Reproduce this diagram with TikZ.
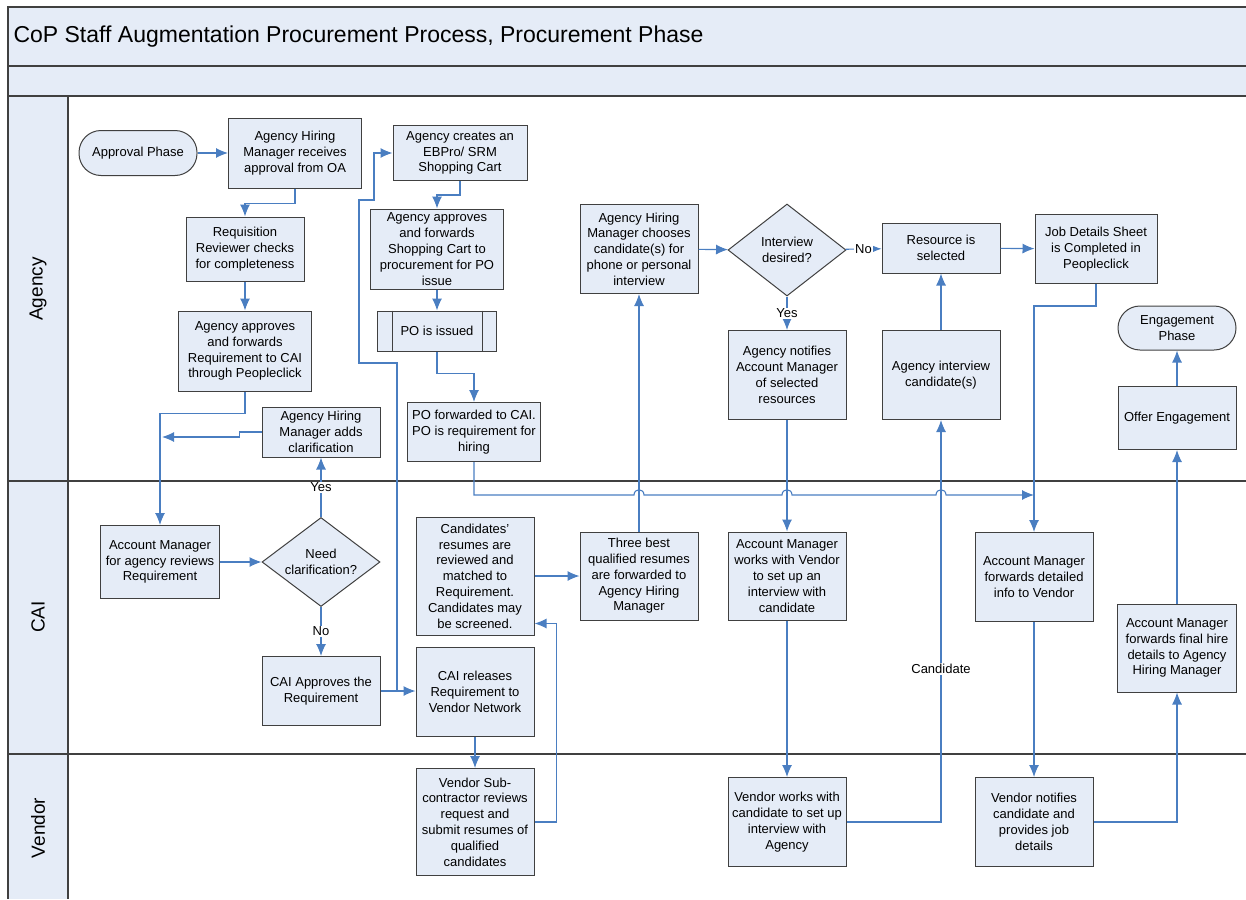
\documentclass[tikz,border=0pt]{standalone}
\usepackage{fontspec}
\setmainfont{Liberation Sans}
\usetikzlibrary{shapes.geometric,arrows.meta}

\definecolor{boxfill}{RGB}{229,236,247}
\definecolor{boxline}{RGB}{64,64,64}
\definecolor{flowblue}{RGB}{74,126,193}

\tikzset{
  proc/.style={draw=boxline, fill=boxfill, line width=1pt, align=center, inner sep=1pt,
    font=\fontsize{13}{15.8}\selectfont},
  term/.style={proc, rounded corners=22pt},
  decide/.style={proc, diamond, shape aspect=1.3, inner sep=0pt},
  flow/.style={draw=flowblue, line width=1.1pt, -{Latex[length=12pt,width=10pt]}},
  lbl/.style={fill=white, inner sep=1pt, font=\fontsize{13}{15.8}\selectfont},
  lane/.style={rotate=90, font=\fontsize{19}{22}\selectfont},
  frame/.style={draw=boxline, line width=1.4pt},
}

\begin{document}
\begin{tikzpicture}[x=1pt, y=-1pt]
                \useasboundingbox (0,0) rectangle (1246,899);

                % Frame and lanes
                \fill[boxfill] (8,7) rectangle (1246,96);
                \fill[boxfill] (8,96) rectangle (68,899);
                \draw[frame] (1246,7) -- (8,7) -- (8,899);
                \draw[frame] (8,66) -- (1246,66);
                \draw[frame] (8,96) -- (1246,96);
                \draw[frame] (68,96) -- (68,899);
                \draw[frame] (8,481) -- (1246,481);
                \draw[frame] (8,754) -- (1246,754);
                \node[anchor=west, font=\fontsize{23}{26}\selectfont] (title) at (10,37) {CoP Staff Augmentation Procurement Process, Procurement Phase};
                \node[lane] (agency) at (38,289) {Agency};
                \node[lane] (cai) at (38,617) {CAI};
                \node[lane] (vendor) at (38,828) {Vendor};

                % Nodes, Agency lane
                \node[term, minimum width=118pt, minimum height=45pt] (approval) at (138,153) {Approval Phase};
                \node[proc, minimum width=133pt, minimum height=70pt] (ahmrecv) at (295,153) {Agency Hiring\\Manager receives\\approval from OA};
                \node[proc, minimum width=118pt, minimum height=64pt] (reqrev) at (245,249) {Requisition\\Reviewer checks\\for completeness};
                \node[proc, minimum width=133pt, minimum height=80pt] (agreq) at (245,351) {Agency approves\\and forwards\\Requirement to CAI\\through Peopleclick};
                \node[proc, minimum width=118pt, minimum height=50pt] (clarify) at (321,432) {Agency Hiring\\Manager adds\\clarification};
                \node[proc, minimum width=134pt, minimum height=55pt] (cart) at (460,153) {Agency creates an\\EBPro/ SRM\\Shopping Cart};
                \node[proc, minimum width=133pt, minimum height=80pt] (cartok) at (437,249) {Agency approves\\and forwards\\Shopping Cart to\\procurement for PO\\issue};
                \node[proc, minimum width=119pt, minimum height=40pt] (poissued) at (437,331) {PO is issued};
                \draw[boxline, line width=1pt] ([xshift=15pt]poissued.north west) -- ([xshift=15pt]poissued.south west)
                    ([xshift=-15pt]poissued.north east) -- ([xshift=-15pt]poissued.south east);
                \node[proc, minimum width=133pt, minimum height=59pt] (pofwd) at (474,432) {PO forwarded to CAI.\\PO is requirement for\\hiring};
                \node[proc, minimum width=118pt, minimum height=89pt] (choose) at (639,249) {Agency Hiring\\Manager chooses\\candidate(s) for\\phone or personal\\interview};
                \node[decide, minimum width=118pt, minimum height=92pt] (intdes) at (787,250) {Interview\\desired?};
                \node[proc, minimum width=118pt, minimum height=50pt] (ressel) at (941,248) {Resource is\\selected};
                \node[proc, minimum width=122pt, minimum height=69pt] (jobsheet) at (1096,249) {Job Details Sheet\\is Completed in\\Peopleclick};
                \node[proc, minimum width=118pt, minimum height=89pt] (notify) at (787,375) {Agency notifies\\Account Manager\\of selected\\resources};
                \node[proc, minimum width=118pt, minimum height=89pt] (interview) at (941,375) {Agency interview\\candidate(s)};
                \node[term, minimum width=118pt, minimum height=44pt] (engage) at (1177,328) {Engagement\\Phase};
                \node[proc, minimum width=118pt, minimum height=63pt] (offer) at (1177,418) {Offer Engagement};

                % Nodes, CAI lane
                \node[proc, minimum width=119pt, minimum height=73pt] (amreview) at (160,562) {Account Manager\\for agency reviews\\Requirement};
                \node[decide, minimum width=118pt, minimum height=89pt] (needclar) at (321,562) {Need\\clarification?};
                \node[proc, minimum width=118pt, minimum height=69pt] (caiok) at (321,691) {CAI Approves the\\Requirement};
                \node[proc, minimum width=118pt, minimum height=118pt] (resumes) at (475,576) {Candidates’\\resumes are\\reviewed and\\matched to\\Requirement.\\Candidates may\\be screened.};
                \node[proc, minimum width=118pt, minimum height=89pt] (release) at (475,692) {CAI releases\\Requirement to\\Vendor Network};
                \node[proc, minimum width=118pt, minimum height=88pt] (threebest) at (639,576) {Three best\\qualified resumes\\are forwarded to\\Agency Hiring\\Manager};
                \node[proc, minimum width=118pt, minimum height=88pt] (amvendor) at (787,576) {Account Manager\\works with Vendor\\to set up an\\interview with\\candidate};
                \node[proc, minimum width=118pt, minimum height=89pt] (amfwd) at (1034,577) {Account Manager\\forwards detailed\\info to Vendor};
                \node[proc, minimum width=119pt, minimum height=88pt] (amfinal) at (1177,648) {Account Manager\\forwards final hire\\details to Agency\\Hiring Manager};

                % Nodes, Vendor lane
                \node[proc, minimum width=118pt, minimum height=107pt] (subcon) at (475,822) {Vendor Sub-\\contractor reviews\\request and\\submit resumes of\\qualified\\candidates};
                \node[proc, minimum width=118pt, minimum height=89pt] (vendcand) at (787,822) {Vendor works with\\candidate to set up\\interview with\\Agency};
                \node[proc, minimum width=118pt, minimum height=89pt] (vendnotify) at (1034,822) {Vendor notifies\\candidate and\\provides job\\details};

                % Free ends
                \coordinate (clarend) at (162,437);
                \coordinate (hopend) at (1034,495);

                % Edges
                \draw[flow] (approval) -- (ahmrecv);
                \draw[flow] (ahmrecv.south) -- ++(0,15) -| (reqrev.north);
                \draw[flow] (reqrev) -- (agreq);
                \draw[flow] (agreq.south) -- ++(0,22) -| (amreview.north);
                \draw[flow] (clarify.west) -- ++(-22,0) -- ++(0,5) -- (clarend);
                \draw[flow] (amreview) -- (needclar);
                \draw[flow] (needclar.north) -- node[lbl] {Yes} (clarify.south);
                \draw[flow] (needclar.south) -- node[lbl] {No} (caiok.north);
                \draw[flow] (caiok.east) -- (release.west |- caiok.east);
                \draw[flow] (caiok.east) -| (397,363) -| (359,200) -| (374,153) -- (cart.west);
                \draw[flow] (cart.south) -- ++(0,14) -| (cartok.north);
                \draw[flow] (cartok) -- (poissued);
                \draw[flow] (poissued.south) -- ++(0,22) -| (pofwd.north);
                \draw[flow] (pofwd.south) |- (634,495) .. controls (634,488) and (644,488) .. (644,495)
                    -- (782,495) .. controls (782,488) and (792,488) .. (792,495)
                    -- (936,495) .. controls (936,488) and (946,488) .. (946,495) -- (hopend);
                \draw[flow] (threebest) -- (choose);
                \draw[flow] (choose) -- (intdes);
                \draw[flow] (intdes) -- node[lbl] {No} (ressel);
                \draw[flow] (intdes) -- node[lbl] {Yes} (notify);
                \draw[flow] (ressel) -- (jobsheet);
                \draw[flow] (jobsheet.south) -- ++(0,22) -| (amfwd.north);
                \draw[flow] (notify) -- (amvendor);
                \draw[flow] (amvendor) -- (vendcand);
                \draw[flow] (vendcand.east) -| node[lbl, pos=0.69] {Candidate} (interview.south);
                \draw[flow] (interview) -- (ressel);
                \draw[flow] (amfwd) -- (vendnotify);
                \draw[flow] (vendnotify.east) -| (amfinal.south);
                \draw[flow] (amfinal) -- (offer);
                \draw[flow] (offer) -- (engage);
                \draw[flow] (release) -- (subcon);
                \draw[flow] (subcon.east) -- ++(22,0) |- ([yshift=12pt]resumes.south east);
                \draw[flow] (resumes) -- (threebest);
            \end{tikzpicture}
\end{document}
